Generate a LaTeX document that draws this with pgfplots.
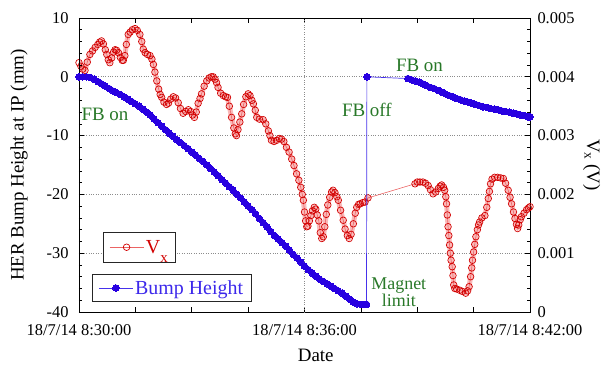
\documentclass[border=0pt]{standalone}
\usepackage{fontspec}
\setmainfont{Liberation Serif}
\usepackage{pgfplots}
\usepackage{pgfplotstable}
\pgfplotsset{compat=1.18}

\definecolor{vxred}{RGB}{210,0,0}
\definecolor{vxline}{RGB}{235,100,100}
\definecolor{vxband}{RGB}{250,185,185}
\definecolor{bhblue}{RGB}{40,0,225}
\definecolor{bhline}{RGB}{70,50,235}
\definecolor{bhtext}{RGB}{60,40,235}
\definecolor{fbgreen}{RGB}{40,120,40}
\definecolor{gridgray}{RGB}{140,140,140}

% Vx before the feedback was switched off (minutes after 8:30:00, volts)
\pgfplotstableread{
t v
0.00 0.00424
0.05 0.00418
0.10 0.00413
0.16 0.00411
0.22 0.00425
0.29 0.00438
0.36 0.00444
0.43 0.00450
0.50 0.00455
0.55 0.00459
0.60 0.00461
0.65 0.00456
0.70 0.00446
0.74 0.00438
0.78 0.00429
0.82 0.00424
0.87 0.00432
0.92 0.00442
0.96 0.00446
1.00 0.00445
1.05 0.00441
1.10 0.00433
1.15 0.00428
1.18 0.00428
1.22 0.00436
1.26 0.00455
1.31 0.00472
1.36 0.00476
1.42 0.00480
1.49 0.00482
1.55 0.00479
1.62 0.00472
1.67 0.00460
1.71 0.00447
1.76 0.00441
1.82 0.00438
1.89 0.00436
1.94 0.00430
1.98 0.00421
2.02 0.00408
2.07 0.00393
2.12 0.00379
2.16 0.00370
2.20 0.00365
2.26 0.00357
2.33 0.00353
2.38 0.00355
2.44 0.00362
2.51 0.00366
2.57 0.00364
2.64 0.00356
2.70 0.00346
2.77 0.00338
2.84 0.00341
2.91 0.00344
2.97 0.00341
3.02 0.00335
3.07 0.00331
3.12 0.00340
3.17 0.00355
3.22 0.00363
3.26 0.00371
3.33 0.00384
3.40 0.00393
3.46 0.00398
3.52 0.00400
3.57 0.00400
3.62 0.00396
3.66 0.00390
3.70 0.00382
3.77 0.00372
3.84 0.00368
3.90 0.00366
3.95 0.00365
4.00 0.00350
4.06 0.00331
4.12 0.00313
4.16 0.00303
4.19 0.00300
4.23 0.00310
4.28 0.00323
4.33 0.00337
4.38 0.00353
4.44 0.00366
4.50 0.00371
4.55 0.00368
4.60 0.00360
4.64 0.00354
4.69 0.00343
4.73 0.00331
4.80 0.00328
4.90 0.00327
4.97 0.00320
5.04 0.00308
5.08 0.00300
5.12 0.00292
5.19 0.00290
5.26 0.00292
5.33 0.00295
5.39 0.00294
5.45 0.00290
5.52 0.00280
5.59 0.00272
5.66 0.00260
5.72 0.00249
5.79 0.00235
5.85 0.00224
5.90 0.00212
5.94 0.00200
5.97 0.00190
6.00 0.00170
6.03 0.00155
6.06 0.00145
6.09 0.00146
6.13 0.00155
6.17 0.00164
6.21 0.00172
6.26 0.00178
6.30 0.00175
6.34 0.00165
6.38 0.00155
6.42 0.00135
6.46 0.00125
6.50 0.00128
6.54 0.00145
6.58 0.00166
6.62 0.00182
6.67 0.00195
6.72 0.00204
6.76 0.00207
6.81 0.00203
6.86 0.00196
6.90 0.00190
6.96 0.00173
7.03 0.00156
7.08 0.00141
7.14 0.00130
7.19 0.00125
7.24 0.00132
7.30 0.00150
7.35 0.00168
7.39 0.00178
7.44 0.00183
7.48 0.00184
7.55 0.00186
7.61 0.00187
7.69 0.00194
}\vxA

% Vx after the feedback was switched on again
\pgfplotstableread{
t v
8.94 0.00218
9.00 0.00221
9.07 0.00221
9.15 0.00221
9.22 0.00219
9.29 0.00215
9.35 0.00208
9.42 0.00201
9.49 0.00204
9.56 0.00210
9.61 0.00214
9.65 0.00216
9.70 0.00212
9.73 0.00207
9.76 0.00196
9.78 0.00184
9.80 0.00165
9.82 0.00145
9.84 0.00130
9.86 0.00114
9.88 0.00100
9.90 0.00088
9.93 0.00077
9.95 0.00062
9.97 0.00046
10.00 0.00040
10.05 0.00039
10.13 0.00037
10.20 0.00035
10.29 0.00032
10.34 0.00036
10.38 0.00043
10.42 0.00060
10.45 0.00075
10.47 0.00088
10.50 0.00102
10.53 0.00115
10.56 0.00128
10.60 0.00140
10.63 0.00148
10.66 0.00153
10.72 0.00160
10.80 0.00164
10.85 0.00178
10.89 0.00193
10.92 0.00205
10.95 0.00218
10.99 0.00226
11.06 0.00229
11.14 0.00229
11.22 0.00228
11.29 0.00227
11.35 0.00219
11.42 0.00207
11.47 0.00195
11.51 0.00184
11.56 0.00170
11.60 0.00159
11.64 0.00149
11.67 0.00142
11.70 0.00148
11.74 0.00157
11.77 0.00162
11.84 0.00168
11.91 0.00174
11.96 0.00177
12.00 0.00179
}\vxB

\begin{document}
\begin{tikzpicture}
\pgfplotsset{
  common/.style={
    scale only axis, width=451bp, height=294bp,
    xmin=0, xmax=12,
    tick align=inside,
    major tick length=5bp, minor tick length=3bp,
    every tick/.style={black, line width=0.6pt},
    axis line style={black, line width=0.8pt},
    /pgf/number format/assume math mode=true,
    tick label style={font=\fontsize{16.5}{16.5}\selectfont},
    legend style={font=\fontsize{20}{20}\selectfont, draw=black!85, line width=0.8pt, fill=white, inner xsep=6bp, inner ysep=6bp, cells={anchor=west}},
    legend image code/.code={\draw[mark repeat=2,mark phase=2,##1] plot coordinates {(0bp,0bp)(17bp,0bp)(34bp,0bp)};},
  }
}
% ---------- right axis: Vx ----------
\begin{axis}[common, name=ax,
  ymin=0, ymax=0.005,
  ytick={0,0.001,0.002,0.003,0.004,0.005},
  yticklabels={0,0.001,0.002,0.003,0.004,0.005},
  scaled y ticks=false, minor y tick num=4,
  ytick pos=right, yticklabel pos=right,
  yticklabel style={xshift=4bp},
  xtick={0,1.5,3,4.5,6,7.5,9,10.5,12},
  xticklabels={18/7/14 8:30:00,,,,18/7/14 8:36:00,,,,18/7/14 8:42:00},
  xticklabel style={yshift=-9bp},
  xtick pos=both,
  ymajorgrids, grid style={dotted, gridgray, line width=0.7pt},
  extra x ticks={6}, extra x tick labels={},
  extra x tick style={xmajorgrids=true, major tick length=0pt},
  xlabel={Date},
  every axis x label/.style={at={(axis description cs:0.525,-0.146)},anchor=center,font=\fontsize{19}{19}\selectfont},
  ylabel={V\textsubscript{x} (V)},
  every axis y label/.style={at={(axis description cs:1.137,0.5)},rotate=-90,anchor=center,font=\fontsize{19}{19}\selectfont},
  legend style={at={(0.053,0.167)}, anchor=south west, text=vxred, inner ysep=6bp, inner xsep=6bp},
]
\addplot[forget plot, vxband, line width=5bp, line join=round, line cap=round] table[x=t,y=v] {\vxA};
\addplot[forget plot, vxband, line width=5bp, line join=round, line cap=round] table[x=t,y=v] {\vxB};
\addplot[forget plot, vxline, line width=0.6pt] coordinates {(7.69,0.00194)(8.94,0.00218)};
\addplot[vxline, line width=0.6pt, mark=o, mark size=3.3bp, mark options={vxred, line width=0.7pt, solid}] table[x=t,y=v] {\vxA};
\addlegendentry{V\raisebox{-9bp}{\fontsize{15}{15}\selectfont x}}
\addplot[forget plot, vxline, line width=0.6pt, mark=o, mark size=3.3bp, mark options={vxred, line width=0.7pt, solid}] table[x=t,y=v] {\vxB};
\end{axis}
% ---------- left axis: Bump Height ----------
\begin{axis}[common,
  ymin=-40, ymax=10, ytick={-40,-30,-20,-10,0,10}, minor y tick num=4,
  axis x line=none, axis y line*=left,
  yticklabel style={xshift=-7bp},
  ylabel={HER Bump Height at IP (mm)},
  every axis y label/.style={at={(axis description cs:-0.133,0.5)},rotate=90,anchor=center,font=\fontsize{19}{19}\selectfont},
  legend style={at={(0.029,0.034)}, anchor=south west, text=bhtext, inner ysep=4bp, inner xsep=6bp},
]
\addplot[bhline, line width=0.7pt, mark=*, mark size=3.3bp, mark options={draw=bhblue, fill=bhblue, line width=0pt}] coordinates {
(0.0,0)(0.1,0)(0.2,0)(0.3,-0.1)(0.4,-0.4)(0.5,-0.8)(0.6,-1.2)(0.7,-1.6)(0.8,-2.0)(0.9,-2.4)
(1.0,-2.7)(1.1,-3.0)(1.2,-3.4)(1.3,-3.8)(1.4,-4.2)(1.5,-4.6)(1.6,-5.0)(1.7,-5.5)(1.8,-6.0)(1.9,-6.5)
(2.0,-7.2)(2.1,-7.8)(2.2,-8.4)(2.3,-9.0)(2.4,-9.6)(2.5,-10.1)(2.6,-10.7)(2.7,-11.2)(2.8,-11.7)(2.9,-12.2)
(3.0,-12.8)(3.1,-13.3)(3.2,-13.9)(3.3,-14.4)(3.4,-15.0)(3.5,-15.6)(3.6,-16.2)(3.7,-16.8)(3.8,-17.5)(3.9,-18.1)
(4.0,-18.7)(4.1,-19.3)(4.2,-20.0)(4.3,-20.6)(4.4,-21.3)(4.5,-22.0)(4.6,-22.6)(4.7,-23.3)(4.8,-24.1)(4.9,-24.8)
(5.0,-25.5)(5.1,-26.3)(5.2,-27.0)(5.3,-27.6)(5.4,-28.2)(5.5,-28.8)(5.6,-29.5)(5.7,-30.2)(5.8,-30.8)(5.9,-31.5)
(6.0,-32.2)(6.1,-32.8)(6.2,-33.4)(6.3,-33.9)(6.4,-34.4)(6.5,-34.8)(6.6,-35.2)(6.7,-35.6)(6.8,-36.0)(6.9,-36.4)
(7.0,-36.8)(7.1,-37.3)(7.2,-37.8)(7.3,-38.3)(7.4,-38.6)(7.5,-38.7)(7.6,-38.7)(7.65,-38.7)
(7.66,0)
(8.75,-0.3)(8.85,-0.5)(8.95,-0.7)(9.05,-0.9)(9.15,-1.2)(9.25,-1.5)(9.35,-1.8)(9.45,-2.0)(9.55,-2.3)
(9.65,-2.6)(9.75,-2.9)(9.85,-3.2)(9.95,-3.4)(10.05,-3.7)(10.15,-3.9)(10.25,-4.1)(10.35,-4.3)(10.45,-4.5)
(10.55,-4.7)(10.65,-4.9)(10.75,-5.1)(10.85,-5.2)(10.95,-5.4)(11.05,-5.5)(11.15,-5.6)(11.25,-5.8)
(11.35,-5.9)(11.45,-6.0)(11.55,-6.2)(11.65,-6.3)(11.75,-6.5)(11.85,-6.6)(11.95,-6.8)(12.0,-6.8)
};
\addlegendentry{Bump Height}
\node[fbgreen, font=\fontsize{19}{19}\selectfont] at (axis cs:0.69,-6.46) {FB on};
\node[fbgreen, font=\fontsize{19}{19}\selectfont] at (axis cs:7.66,-5.6) {FB off};
\node[fbgreen, font=\fontsize{19}{19}\selectfont] at (axis cs:9.06,2.0) {FB on};
\node[fbgreen, font=\fontsize{18}{17}\selectfont, align=center] at (axis cs:8.51,-36.6) {Magnet\\limit};
\end{axis}
\path ([shift={(-79bp,-53bp)}]ax.south west) rectangle ([shift={(79bp,18bp)}]ax.north east);
\end{tikzpicture}
\end{document}
